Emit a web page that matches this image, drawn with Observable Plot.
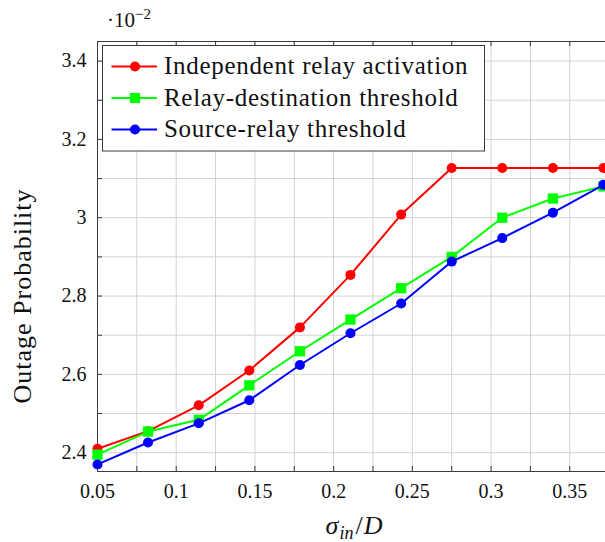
<!DOCTYPE html>
<html>
<head>
<meta charset="utf-8">
<script src="https://cdn.jsdelivr.net/npm/d3@7"></script>
<script src="https://cdn.jsdelivr.net/npm/@observablehq/plot@0.6"></script>
<style>
  html, body { margin: 0; padding: 0; background: #fff; }
  #chart { width: 605px; height: 542px; }
  #chart svg, #chart svg text, #chart svg tspan { font-family: "Liberation Serif", serif !important; }
</style>
</head>
<body>
<div id="chart"></div>
<script>
// ---- data (y in units of 10^-2) ----
const xValues = [0.05, 0.0821, 0.1143, 0.1464, 0.1786, 0.2107, 0.2429, 0.275, 0.3071, 0.3393, 0.3714];
const independentRelay = [2.41, 2.455, 2.521, 2.61, 2.72, 2.854, 3.008, 3.127, 3.127, 3.127, 3.127];
const relayDestination = [2.395, 2.454, 2.484, 2.572, 2.659, 2.74, 2.82, 2.9, 3.0, 3.049, 3.08];
const sourceRelay = [2.37, 2.426, 2.475, 2.534, 2.624, 2.705, 2.781, 2.888, 2.948, 3.013, 3.084];

const seriesNames = ["Independent relay activation", "Relay-destination threshold", "Source-relay threshold"];
const seriesColors = ["#ff0000", "#00ff00", "#0000ff"];
const seriesSymbols = ["circle", "square", "circle"];
const seriesValues = [independentRelay, relayDestination, sourceRelay];

const xTickLabels = [0.05, 0.1, 0.15, 0.2, 0.25, 0.3, 0.35];
const xGridTicks = [0.05, 0.075, 0.1, 0.125, 0.15, 0.175, 0.2, 0.225, 0.25, 0.275, 0.3, 0.325, 0.35];
const yTickLabels = [2.4, 2.6, 2.8, 3.0, 3.2, 3.4];
const yGridTicks = [2.4, 2.5, 2.6, 2.7, 2.8, 2.9, 3.0, 3.1, 3.2, 3.3, 3.4];
const xDomain = [0.05, 0.3727];
const yDomain = [2.352, 3.45];

// ---- build table ----
const rows = [];
seriesNames.forEach((name, i) => {
  seriesValues[i].forEach((v, j) => rows.push({series: name, x: xValues[j], y: v}));
});

const W = 605, H = 542, mL = 97, mR = 0, mT = 41, mB = 71;
const innerW = W - mL - mR, innerH = H - mT - mB;
const axisColor = "#3a3a3a";
const gridColor = "#d2d2d2";
const fmt = d => String(+d.toFixed(2));

const marks = [
  Plot.gridX(xGridTicks, {stroke: gridColor, strokeOpacity: 1}),
  Plot.gridY(yGridTicks, {stroke: gridColor, strokeOpacity: 1}),
  Plot.tickX(xGridTicks, {x: d => d, insetTop: innerH - 5, stroke: axisColor}),
  Plot.tickX(xGridTicks, {x: d => d, insetBottom: innerH - 5, stroke: axisColor}),
  Plot.tickY(yGridTicks, {y: d => d, insetRight: innerW - 5, stroke: axisColor}),
  Plot.ruleX([xDomain[0]], {stroke: axisColor}),
  Plot.ruleY(yDomain, {stroke: axisColor}),
  Plot.axisX(xTickLabels, {tickSize: 0, tickPadding: 12, tickFormat: fmt, label: null, fill: "#111"}),
  Plot.axisY(yTickLabels, {tickSize: 0, tickPadding: 11, tickFormat: fmt, label: null, fill: "#111"})
];
seriesNames.forEach((name, i) => {
  const data = rows.filter(r => r.series === name);
  marks.push(Plot.line(data, {x: "x", y: "y", stroke: seriesColors[i], strokeWidth: 2}));
  marks.push(Plot.dot(data, {x: "x", y: "y", fill: seriesColors[i], stroke: "none",
    symbol: seriesSymbols[i], r: seriesSymbols[i] === "square" ? 5.8 : 5}));
});

const svg = Plot.plot({
  width: W, height: H,
  marginLeft: mL, marginRight: mR, marginTop: mT, marginBottom: mB,
  x: {domain: xDomain, label: null},
  y: {domain: yDomain, label: null},
  style: {fontFamily: "Liberation Serif, serif", fontSize: "20px", background: "#fff", color: "#111"},
  marks
});
document.getElementById("chart").appendChild(svg);

// ---- annotations: axis labels, exponent, legend ----
const s = d3.select(svg);
const serif = "Liberation Serif, serif";

// exponent
const ex = s.append("text").attr("x", 107).attr("y", 27).attr("font-family", serif)
  .attr("text-anchor", "start").attr("font-size", 21).attr("fill", "#111");
ex.append("tspan").text("·10");
ex.append("tspan").attr("dy", -8).attr("font-size", 15).text("−2");

// y label
s.append("text").attr("transform", `translate(31,${mT + innerH / 2 + 40}) rotate(-90)`)
  .attr("text-anchor", "middle").attr("font-family", serif).attr("font-size", 26)
  .attr("letter-spacing", 1).attr("fill", "#111").text("Outage Probability");

// x label
const xl = s.append("text").attr("x", mL + innerW / 2 + 3).attr("y", 534).attr("text-anchor", "middle")
  .attr("font-family", serif).attr("font-size", 26).attr("fill", "#111");
xl.append("tspan").attr("font-style", "italic").text("σ");
xl.append("tspan").attr("font-style", "italic").attr("font-size", 18).attr("dy", 5).attr("dx", 1).text("in");
xl.append("tspan").attr("dy", -5).attr("dx", 2).text("/");
xl.append("tspan").attr("font-style", "italic").attr("dx", 1).text("D");

// legend
const lg = s.append("g");
lg.append("rect").attr("x", 102.5).attr("y", 45.5).attr("width", 382).attr("height", 105.5)
  .attr("fill", "#fff").attr("stroke", axisColor).attr("stroke-width", 1);
const rowY = [66.5, 98, 129.5];
seriesNames.forEach((name, i) => {
  const y = rowY[i];
  lg.append("line").attr("x1", 111.5).attr("x2", 157).attr("y1", y).attr("y2", y)
    .attr("stroke", seriesColors[i]).attr("stroke-width", 2);
  if (seriesSymbols[i] === "square") {
    lg.append("rect").attr("x", 135 - 5.1).attr("y", y - 5.1).attr("width", 10.2).attr("height", 10.2)
      .attr("fill", seriesColors[i]);
  } else {
    lg.append("circle").attr("cx", 135).attr("cy", y).attr("r", 5).attr("fill", seriesColors[i]);
  }
  lg.append("text").attr("x", 164).attr("y", y + 7.5).attr("text-anchor", "start").attr("font-family", serif)
    .attr("font-size", 25).attr("letter-spacing", 0.7).attr("fill", "#111").text(name);
});
</script>
</body>
</html>
